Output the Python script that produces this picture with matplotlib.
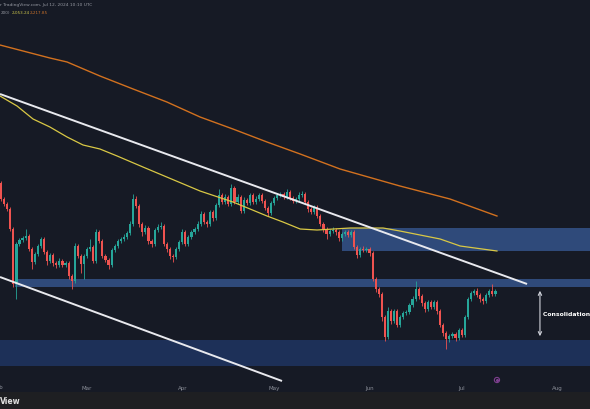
import matplotlib
matplotlib.use("Agg")
import matplotlib.pyplot as plt
import matplotlib.transforms as mtransforms
from matplotlib.patches import Rectangle
import numpy as np

# daily candles, day 0 = Feb 1 (values in chart units)
first_open = 216
closes = [
    200, 195, 190, 170, 115, 155, 159, 161, 163, 150,
    137, 145, 153, 160, 147, 138, 144, 136, 134, 138,
    134, 136, 123, 118, 153, 143, 135, 143, 150, 152,
    138, 167, 158, 143, 139, 134, 149, 153, 158, 160,
    162, 166, 175, 200, 193, 175, 167, 171, 158, 155,
    169, 172, 173, 155, 150, 143, 142, 150, 157, 167,
    155, 162, 167, 170, 175, 185, 177, 175, 187, 181,
    194, 204, 197, 202, 195, 211, 197, 202, 188, 199,
    196, 204, 197, 200, 204, 198, 191, 186, 196, 201,
    204, 205, 202, 207, 201, 198, 200, 204, 205, 197,
    190, 187, 192, 183, 175, 170, 165, 168, 169, 167,
    161, 165, 167, 164, 167, 152, 144, 150, 149, 150,
    146, 120, 110, 105, 82, 62, 88, 78, 88, 74,
    82, 86, 87, 94, 100, 110, 103, 96, 90, 97,
    92, 97, 88, 74, 66, 60, 63, 65, 61, 69,
    64, 82, 100, 106, 108, 104, 100, 98, 104, 108,
    105, 108,
]
highs = [
    218, 202, 197, 192, 172, 157, 161, 163, 170, 165,
    152, 147, 155, 162, 162, 149, 146, 146, 138, 141,
    140, 138, 138, 125, 156, 155, 145, 145, 152, 160,
    154, 170, 169, 160, 145, 141, 151, 155, 160, 162,
    165, 168, 178, 205, 203, 195, 177, 174, 173, 160,
    171, 175, 177, 175, 157, 152, 145, 152, 159, 170,
    169, 164, 169, 172, 178, 188, 187, 179, 189, 189,
    196, 210, 206, 205, 204, 215, 213, 205, 204, 202,
    201, 206, 206, 203, 206, 206, 200, 193, 198, 203,
    206, 207, 207, 210, 209, 203, 202, 207, 208, 207,
    199, 192, 194, 194, 185, 177, 172, 170, 172, 171,
    169, 167, 169, 169, 169, 169, 154, 152, 153, 152,
    152, 148, 122, 112, 107, 84, 92, 90, 90, 90,
    84, 88, 89, 96, 103, 118, 112, 105, 98, 99,
    99, 99, 99, 90, 76, 68, 65, 67, 67, 71,
    71, 84, 102, 108, 110, 111, 106, 102, 106, 110,
    115, 110,
]
lows = [
    198, 193, 188, 168, 112, 100, 153, 157, 159, 148,
    130, 135, 143, 151, 145, 134, 136, 133, 131, 132,
    132, 132, 120, 110, 116, 141, 126, 120, 141, 148,
    136, 136, 156, 141, 137, 130, 132, 147, 151, 156,
    158, 160, 164, 173, 191, 172, 163, 165, 155, 152,
    153, 167, 170, 153, 147, 140, 137, 140, 148, 155,
    153, 153, 160, 165, 168, 173, 175, 172, 173, 178,
    179, 192, 195, 195, 193, 193, 195, 195, 186, 186,
    194, 194, 195, 195, 198, 196, 189, 183, 184, 194,
    199, 202, 200, 200, 199, 196, 196, 198, 202, 195,
    187, 185, 185, 181, 173, 167, 160, 163, 166, 164,
    158, 158, 163, 162, 162, 150, 141, 142, 147, 147,
    143, 118, 107, 102, 78, 58, 60, 75, 76, 72,
    72, 80, 84, 85, 92, 98, 100, 93, 87, 88,
    90, 90, 85, 72, 63, 50, 57, 61, 58, 59,
    62, 62, 80, 98, 104, 102, 97, 95, 96, 102,
    103, 103,
]

ma200_days = [0.65, 16.9, 22.5, 33.2, 44.0, 55.0, 65.8, 76.5, 87.6, 98.4, 111.4, 130.9, 147.2, 162.5]
ma200_vals = [354, 341, 337, 323, 310, 297, 282, 270, 257, 245, 230, 213, 200, 183]
ma100_days = [0.65, 6.2, 11.4, 16.9, 22.5, 27.7, 33.2, 38.8, 47.2, 65.8, 76.5, 82.1, 87.6,
              92.8, 98.4, 103.9, 114.7, 125.4, 130.9, 144.0, 150.5, 162.5]
ma100_vals = [303, 293, 280, 272, 262, 254, 250, 243, 232, 208, 197, 190, 183,
              177, 170, 169, 171, 171, 168, 160, 153, 148]

# channel lines (day, value)
upper_line = ([0.65, 172.3], [305, 115])
lower_line = ([0.65, 92.5], [122, 18])

# zones: (start day, bottom, top)
zones = [
    (112.1, 148, 171, "#2f4a7a"),
    (5.5, 112, 120, "#2f4a7a"),
    (0.0, 33, 59, "#1d3058"),
]

month_days = [0, 29, 60, 90, 121, 151, 182]
month_names = ["Feb", "Mar", "Apr", "May", "Jun", "Jul", "Aug"]

BG = "#161a25"
UP = "#26a69a"
DOWN = "#ef5350"

W, H = 590, 410
fig = plt.figure(figsize=(W / 100, H / 100), dpi=100, facecolor=BG)
ax = fig.add_axes([0, 27 / H, 1, 363 / H])
ax.set_facecolor(BG)
x0, x1 = 0.65, 192.8
ax.set_xlim(x0, x1)
ax.set_ylim(17, 380)

for start, lo, hi, col in zones:
    ax.add_patch(Rectangle((start, lo), x1 - start, hi - lo, facecolor=col,
                           edgecolor="none", zorder=1))

closes = np.array(closes, dtype=float)
opens = np.concatenate([[first_open], closes[:-1]])
days = np.arange(1, len(closes) + 1)
colors = np.where(closes >= opens, UP, DOWN)

ax.vlines(days, lows, highs, colors=colors, linewidth=0.6, zorder=3)
body = closes - opens
body = np.where(np.abs(body) < 1, 1, body)
ax.bar(days, body, bottom=opens, width=0.7, color=colors, linewidth=0, zorder=4)

ax.plot(ma200_days, ma200_vals, color="#d2711f", lw=1.0, zorder=5)
ax.plot(ma100_days, ma100_vals, color="#d9c845", lw=0.9, zorder=5)
ax.plot(*upper_line, color="#e8e9ee", lw=1.4, zorder=6, solid_capstyle="butt")
ax.plot(*lower_line, color="#e8e9ee", lw=1.4, zorder=6, solid_capstyle="butt")

ax.annotate("", xy=(176.5, 111), xytext=(176.5, 60),
            arrowprops=dict(arrowstyle="<->", color="#d1d4dc", lw=0.8, mutation_scale=6),
            zorder=7)
ax.text(177.5, 85, "Consolidation Zone", fontsize=4.4, fontweight="bold", color="white",
        va="center", ha="left", clip_on=False, zorder=7)

ax.scatter([162.5], [19], s=14, facecolors="none", edgecolors="#7e3f8f", linewidths=0.8,
           clip_on=False, zorder=7)
ax.scatter([162.5], [19], s=1.5, color="#7e3f8f", clip_on=False, zorder=7)

for sp in ax.spines.values():
    sp.set_visible(False)
ax.set_yticks([])
ax.set_xticks(month_days[1:])
ax.set_xticklabels(month_names[1:])
ax.tick_params(axis="x", length=0, pad=2, labelsize=4, labelcolor="#8b8f99")
trans = mtransforms.blended_transform_factory(ax.transData, ax.transAxes)
ax.text(month_days[0], -0.0055, month_names[0], transform=trans, fontsize=4,
        color="#8b8f99", ha="center", va="top", clip_on=False)

# header
fig.text(0.0, 1 - 5 / H, "r TradingView.com, Jul 12, 2024 10:10 UTC", fontsize=3.2,
         color="#9598a1", va="center")
fig.text(1 / W, 1 - 13 / H, "200)", fontsize=3.0, color="#9598a1", va="center")
fig.text(12 / W, 1 - 13 / H, "2,053.24", fontsize=3.0, color="#c9c24a", va="center")
fig.text(30 / W, 1 - 13 / H, "2,217.85", fontsize=3.0, color="#c8702a", va="center")

# footer
fig.patches.append(Rectangle((0, 0), 1, 17 / H, transform=fig.transFigure,
                             facecolor="#1e1f22", edgecolor="none", zorder=0))
fig.text(0.0, 8 / H, "View", fontsize=5.5, fontweight="bold", color="#e0e0e0", va="center")

fig.savefig("out.png", dpi=100, facecolor=BG)
